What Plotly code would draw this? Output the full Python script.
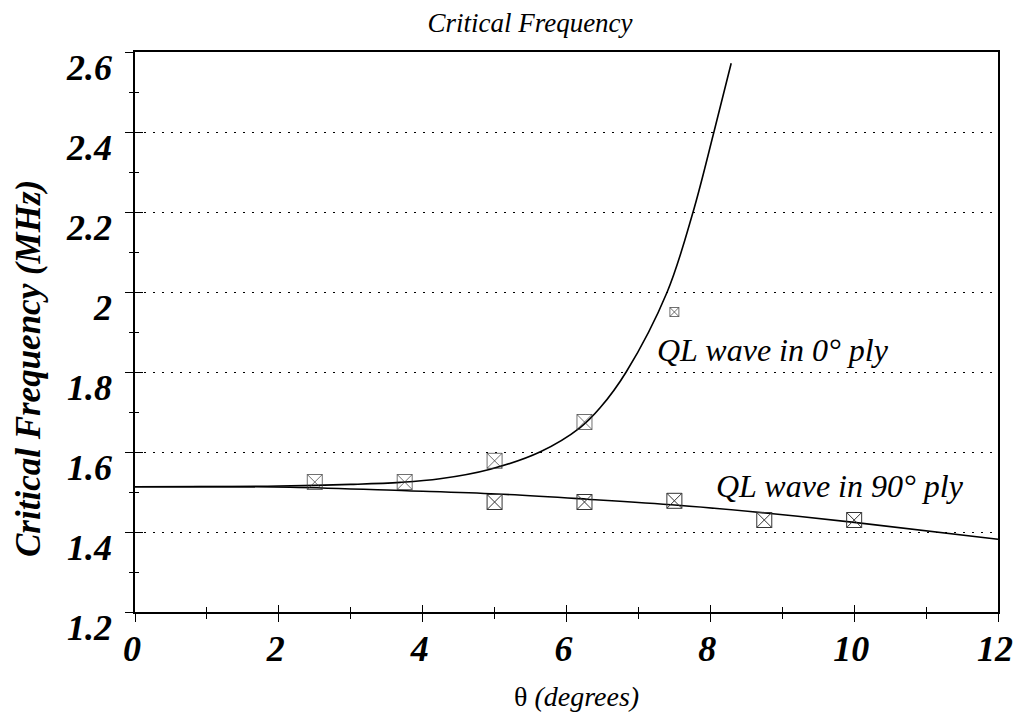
import plotly.graph_objects as go

# Curves
curve0_x = [0, 2, 3, 3.69, 4.24, 4.94, 5.63, 6.19, 6.47, 6.83, 7.40, 7.76, 8.05, 8.29]
curve0_y = [1.513, 1.515, 1.519, 1.524, 1.533, 1.557, 1.60, 1.661, 1.711, 1.80, 2.0, 2.2, 2.4, 2.572]

curve90_x = [0, 2.16, 3.78, 5.03, 6.29, 7.55, 8.8, 10.0, 12]
curve90_y = [1.513, 1.512, 1.503, 1.495, 1.482, 1.467, 1.447, 1.424, 1.382]

# Measured points
pts0_x = [2.5, 3.75, 5.0, 6.25, 7.5]
pts0_y = [1.525, 1.525, 1.578, 1.675, 1.95]
pts90_x = [5.0, 6.25, 7.5, 8.75, 10.0]
pts90_y = [1.475, 1.475, 1.478, 1.43, 1.43]

x_ticks = [0, 2, 4, 6, 8, 10, 12]
x_tick_labels = ["0", "2", "4", "6", "8", "10", "12"]
y_ticks = [1.2, 1.4, 1.6, 1.8, 2.0, 2.2, 2.4, 2.6]
y_tick_labels = ["1.2", "1.4", "1.6", "1.8", "2", "2.2", "2.4", "2.6"]

SERIF = "Liberation Serif, Times New Roman, serif"

fig = go.Figure()
fig.add_trace(go.Scatter(x=curve0_x, y=curve0_y, mode="lines",
                         line=dict(color="black", width=1.6, shape="spline", smoothing=1.0), showlegend=False))
fig.add_trace(go.Scatter(x=curve90_x, y=curve90_y, mode="lines",
                         line=dict(color="black", width=1.6, shape="spline", smoothing=1.0), showlegend=False))
fig.add_trace(go.Scatter(x=pts0_x, y=pts0_y, mode="markers",
                         marker=dict(symbol="square-x-open", size=[15, 15, 15, 15, 9], color="#333", line=dict(width=1)),
                         showlegend=False))
fig.add_trace(go.Scatter(x=pts90_x, y=pts90_y, mode="markers",
                         marker=dict(symbol="square-x-open", size=15, color="#333", line=dict(width=1)),
                         showlegend=False))
# invisible trace for overlay axes (crossing ticks)
fig.add_trace(go.Scatter(x=[0], y=[1.2], xaxis="x2", yaxis="y2", mode="markers",
                         marker=dict(opacity=0), showlegend=False, hoverinfo="skip"))

fig.add_annotation(x=7.23, y=1.855, text="<i>QL wave in 0° ply</i>", showarrow=False,
                   xanchor="left", yanchor="middle", font=dict(family=SERIF, size=32, color="black"))
fig.add_annotation(x=8.05, y=1.465, text="<i>QL wave in 90° ply</i>", showarrow=False,
                   xanchor="left", yanchor="bottom", font=dict(family=SERIF, size=32, color="black"))
# y-axis title (placed lower than centre, as in the original)
fig.add_annotation(x=-0.124, xref="paper", y=1.81, yref="y", text="<b><i>Critical Frequency (MHz)</i></b>",
                   textangle=-90, showarrow=False, xanchor="center", yanchor="middle",
                   font=dict(family=SERIF, size=35, color="black"))
# x-axis title
fig.add_annotation(x=0.512, xref="paper", y=-0.15, yref="paper", text="θ <i>(degrees)</i>",
                   showarrow=False, xanchor="center", yanchor="middle",
                   font=dict(family=SERIF, size=28, color="black"))

fig.update_layout(
    width=1026, height=716,
    paper_bgcolor="white", plot_bgcolor="white",
    margin=dict(l=127, r=36, t=44, b=112),
    title=dict(text="<i>Critical Frequency</i>", x=0.4577, xref="paper", xanchor="center", y=0.979, yanchor="middle",
               font=dict(family=SERIF, size=27, color="black")),
    xaxis=dict(range=[0, 12], tickvals=x_ticks, ticktext=[f"<b><i>{t}</i></b>" for t in x_tick_labels],
               ticks="outside", ticklen=8, tickwidth=1, tickcolor="black",
               minor=dict(dtick=1, ticks="outside", ticklen=5, tickcolor="black"),
               showline=True, linecolor="black", linewidth=1.5, mirror=True, showgrid=False, zeroline=False,
               tickfont=dict(family=SERIF, size=36, color="black"), ticklabelstandoff=-4, ticklabelshift=-3),
    yaxis=dict(range=[1.2, 2.6], tickvals=y_ticks, ticktext=[f"<b><i>{t}</i></b>" for t in y_tick_labels],
               ticks="outside", ticklen=8, tickwidth=1, tickcolor="black",
               minor=dict(dtick=0.1, ticks="outside", ticklen=4, tickcolor="black"),
               showline=True, linecolor="black", linewidth=1.5, mirror=True,
               showgrid=True, gridcolor="black", griddash="2px,7px", gridwidth=1.2, zeroline=False,
               tickfont=dict(family=SERIF, size=36, color="black"), ticklabelstandoff=6, ticklabelshift=15),
    xaxis2=dict(overlaying="x", matches="x", range=[0, 12], tickvals=x_ticks, ticks="inside", ticklen=7,
                tickcolor="black", minor=dict(dtick=1, ticks="inside", ticklen=5, tickcolor="black"),
                showticklabels=False, showgrid=False, zeroline=False, side="bottom"),
    yaxis2=dict(overlaying="y", matches="y", range=[1.2, 2.6], tickvals=y_ticks, ticks="inside", ticklen=8,
                tickcolor="black", minor=dict(dtick=0.1, ticks="inside", ticklen=4, tickcolor="black"),
                showticklabels=False, showgrid=False, zeroline=False, side="left"),
)

fig.write_html("out.html")
